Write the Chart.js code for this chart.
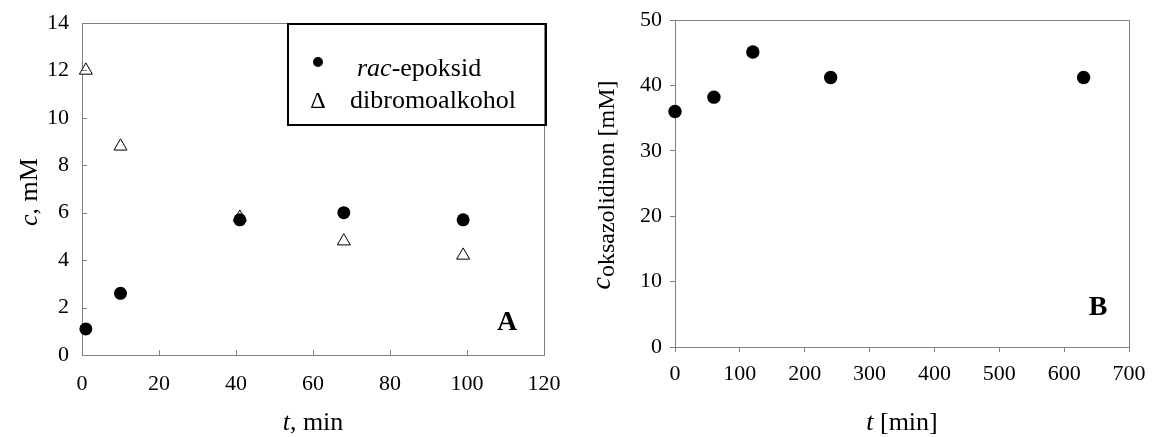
<!DOCTYPE html>
<html>
<head>
<meta charset="utf-8">
<script src="https://cdn.jsdelivr.net/npm/chart.js@4/dist/chart.umd.min.js"></script>
<style>
html, body { margin: 0; padding: 0; background: #fff; }
#wrap { position: relative; width: 1156px; height: 437px; }
.box { position: absolute; top: 0; width: 578px; height: 437px; }
</style>
</head>
<body>
<div id="wrap">
	<div class="box" style="left:0"><canvas id="chartA"></canvas></div>
	<div class="box" style="left:578px"><canvas id="chartB"></canvas></div>
</div>
<script>
'use strict';

// panel A: time in min, concentration in mM
var timeA = [1, 10, 41, 68, 99];
var racEpoksid = [1.1, 2.6, 5.7, 6.0, 5.7];
var dibromoalkohol = [12.0, 8.8, 5.8, 4.8, 4.2];
var ticksAx = [0, 20, 40, 60, 80, 100, 120];
var ticksAy = [0, 2, 4, 6, 8, 10, 12, 14];

// panel B
var timeB = [0, 60, 120, 240, 630];
var oksazolidinon = [36.0, 38.2, 45.1, 41.2, 41.2];
var ticksBx = [0, 100, 200, 300, 400, 500, 600, 700];
var ticksBy = [0, 10, 20, 30, 40, 50];

var SERIF = "'Liberation Serif', 'Times New Roman', serif";
var FRAME = '#808080';

function points(xs, ys) {
	var out = [];
	for (var i = 0; i < xs.length; i++) {
		out.push({x: xs[i], y: ys[i]});
	}
	return out;
}

// text made of pieces with different fonts, centred on (x, y)
function drawRich(ctx, parts, x, y, angle) {
	ctx.save();
	ctx.translate(x, y);
	ctx.rotate(angle);
	ctx.textAlign = 'left';
	ctx.textBaseline = 'alphabetic';
	ctx.fillStyle = '#000';
	var total = 0;
	parts.forEach(function (p) {
		ctx.font = p.font;
		p.w = ctx.measureText(p.text).width;
		total += p.w;
	});
	var cx = -total / 2;
	parts.forEach(function (p) {
		ctx.font = p.font;
		ctx.fillText(p.text, cx, p.dy || 0);
		cx += p.w;
	});
	ctx.restore();
}

function frame(chart) {
	var ctx = chart.ctx;
	var a = chart.chartArea;
	ctx.save();
	ctx.strokeStyle = FRAME;
	ctx.lineWidth = 1;
	ctx.beginPath();
	ctx.moveTo(Math.round(a.left), Math.round(a.top) + 0.5);
	ctx.lineTo(Math.round(a.right) + 0.5, Math.round(a.top) + 0.5);
	ctx.lineTo(Math.round(a.right) + 0.5, Math.round(a.bottom));
	ctx.stroke();
	ctx.restore();
}

// short tick marks pointing into the plot (panel A)
function innerTicks(chart, len) {
	var ctx = chart.ctx;
	var a = chart.chartArea;
	var sx = chart.scales.x;
	var sy = chart.scales.y;
	ctx.save();
	ctx.strokeStyle = FRAME;
	ctx.lineWidth = 1;
	ctx.beginPath();
	sx.ticks.forEach(function (t) {
		var px = Math.round(sx.getPixelForValue(t.value)) + 0.5;
		ctx.moveTo(px, a.bottom);
		ctx.lineTo(px, a.bottom - len);
	});
	sy.ticks.forEach(function (t) {
		var py = Math.round(sy.getPixelForValue(t.value)) + 0.5;
		ctx.moveTo(a.left, py);
		ctx.lineTo(a.left + len, py);
	});
	ctx.stroke();
	ctx.restore();
}

function axis(min, max, list, opts) {
	return {
		type: 'linear',
		min: min,
		max: max,
		afterBuildTicks: function (scale) {
			scale.ticks = list.map(function (v) { return {value: v}; });
		},
		ticks: {
			color: '#000',
			font: {family: SERIF, size: 22},
			padding: opts.padding,
			autoSkip: false,
			maxRotation: 0
		},
		grid: {
			drawOnChartArea: false,
			drawTicks: opts.tick > 0,
			tickLength: opts.tick > 0 ? opts.tick : 0,
			color: FRAME
		},
		border: {color: FRAME, width: 1},
		afterFit: function (scale) {
			if (opts.width) scale.width = opts.width;
			if (opts.height) scale.height = opts.height;
			// keep the plot area where the layout padding puts it
			scale.paddingTop = 0;
			scale.paddingBottom = 0;
			scale.paddingLeft = 0;
			scale.paddingRight = 0;
		}
	};
}

var decorA = {
	id: 'decorA',
	afterDraw: function (chart) {
		var ctx = chart.ctx;
		frame(chart);
		innerTicks(chart, 5);
		drawRich(ctx, [
			{text: 'c', font: 'italic 26px ' + SERIF},
			{text: ', mM', font: '26px ' + SERIF}
		], 37, 192, -Math.PI / 2);
		drawRich(ctx, [
			{text: 't', font: 'italic 26px ' + SERIF},
			{text: ', min', font: '26px ' + SERIF}
		], 313, 430, 0);

		// legend box
		ctx.save();
		ctx.strokeStyle = '#000';
		ctx.lineWidth = 2;
		ctx.strokeRect(288, 24, 258, 101);
		ctx.fillStyle = '#000';
		ctx.beginPath();
		ctx.arc(318, 62, 5, 0, Math.PI * 2);
		ctx.fill();
		ctx.textBaseline = 'alphabetic';
		ctx.textAlign = 'center';
		ctx.font = '24px ' + SERIF;
		ctx.fillText('\u0394', 318, 108);
		ctx.textAlign = 'left';
		ctx.font = 'italic 26px ' + SERIF;
		ctx.fillText('rac', 357, 76);
		var w = ctx.measureText('rac').width;
		ctx.font = '26px ' + SERIF;
		ctx.fillText('-epoksid', 357 + w, 76);
		ctx.fillText('dibromoalkohol', 350, 108);

		ctx.font = 'bold 28px ' + SERIF;
		ctx.textAlign = 'center';
		ctx.fillText('A', 507, 330);
		ctx.restore();
	}
};

var decorB = {
	id: 'decorB',
	afterDraw: function (chart) {
		var ctx = chart.ctx;
		frame(chart);
		drawRich(ctx, [
			{text: 'c', font: 'italic 28px ' + SERIF},
			{text: 'oksazolidinon [mM]', font: '24px ' + SERIF, dy: 4}
		], 32, 185, -Math.PI / 2);
		drawRich(ctx, [
			{text: 't', font: 'italic 26px ' + SERIF},
			{text: ' [min]', font: '26px ' + SERIF}
		], 324, 430, 0);
		ctx.save();
		ctx.fillStyle = '#000';
		ctx.font = 'bold 28px ' + SERIF;
		ctx.textAlign = 'center';
		ctx.textBaseline = 'alphabetic';
		ctx.fillText('B', 520, 315);
		ctx.restore();
	}
};

var common = {
	responsive: true,
	maintainAspectRatio: false,
	animation: false,
	devicePixelRatio: 1,
	plugins: {
		legend: {display: false},
		tooltip: {enabled: false}
	}
};

new Chart(document.getElementById('chartA'), {
	type: 'scatter',
	data: {
		datasets: [
			{
				label: 'rac-epoksid',
				data: points(timeA, racEpoksid),
				pointStyle: 'circle',
				pointRadius: 6.5,
				backgroundColor: '#000',
				borderColor: '#000',
				borderWidth: 0,
				clip: false
			},
			{
				label: 'dibromoalkohol',
				data: points(timeA, dibromoalkohol),
				pointStyle: 'triangle',
				pointRadius: 7.5,
				backgroundColor: '#fff',
				borderColor: '#000',
				borderWidth: 1,
				clip: false
			}
		]
	},
	options: Object.assign({}, common, {
		layout: {padding: {left: 0, right: 34, top: 23, bottom: 0}},
		scales: {
			x: axis(0, 120, ticksAx, {tick: 0, padding: 16, height: 82}),
			y: axis(0, 14, ticksAy, {tick: 0, padding: 13, width: 82})
		}
	}),
	plugins: [decorA]
});

new Chart(document.getElementById('chartB'), {
	type: 'scatter',
	data: {
		datasets: [
			{
				label: 'oksazolidinon',
				data: points(timeB, oksazolidinon),
				pointStyle: 'circle',
				pointRadius: 6.7,
				backgroundColor: '#000',
				borderColor: '#000',
				borderWidth: 0,
				clip: false
			}
		]
	},
	options: Object.assign({}, common, {
		layout: {padding: {left: 0, right: 27, top: 20, bottom: 0}},
		scales: {
			x: axis(0, 700, ticksBx, {tick: 5, padding: 9, height: 90}),
			y: axis(0, 50, ticksBy, {tick: 5, padding: 8, width: 97})
		}
	}),
	plugins: [decorB]
});
</script>
</body>
</html>
